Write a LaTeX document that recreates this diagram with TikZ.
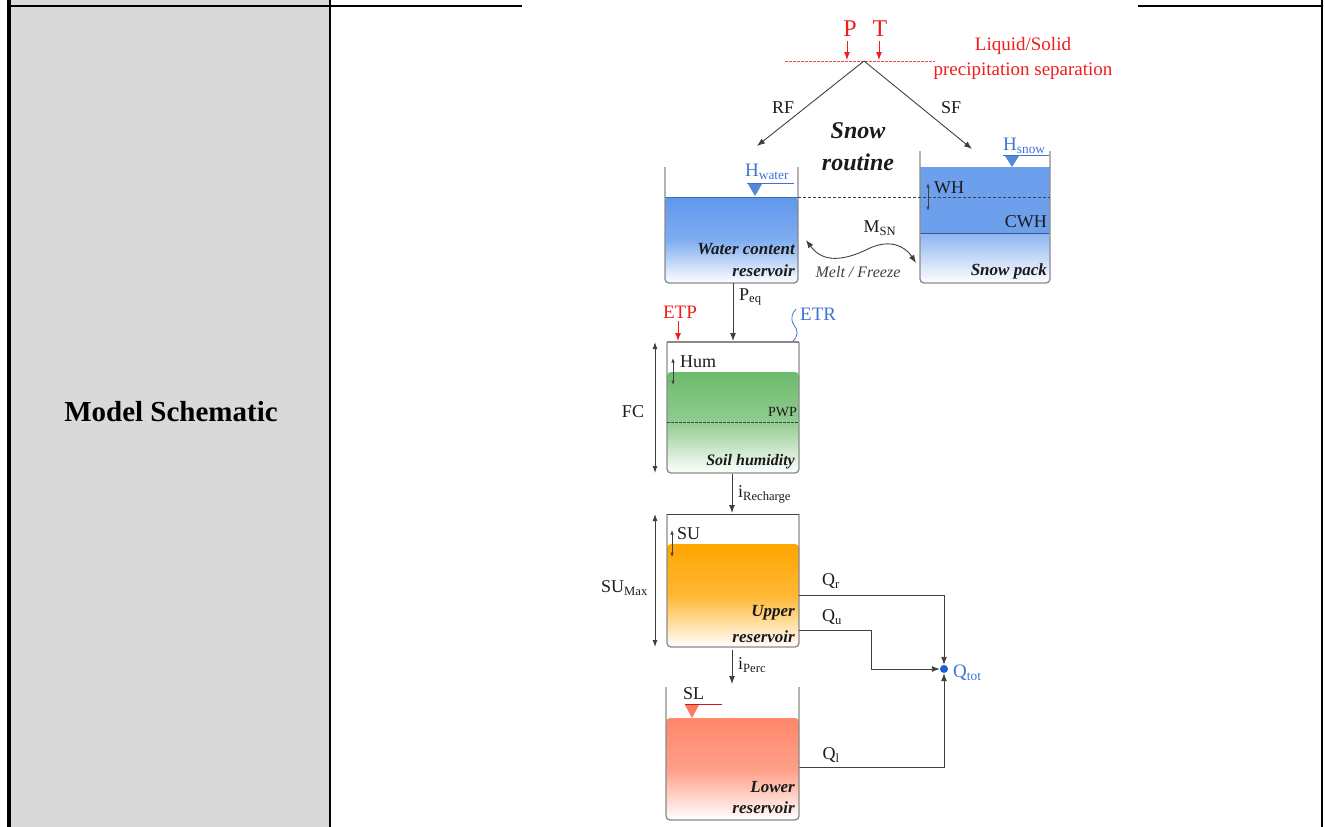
\documentclass[tikz,border=0pt]{standalone}
\usepackage{fontspec}
\setmainfont{Liberation Serif}
\usetikzlibrary{arrows.meta}
\definecolor{cellgray}{HTML}{D9D9D9}
\definecolor{wallgray}{HTML}{8A8A8A}
\definecolor{linegray}{HTML}{404040}
\definecolor{txt}{HTML}{1A1A1A}
\definecolor{pred}{HTML}{F21C1C}
\definecolor{pblue}{HTML}{3F72D6}
\definecolor{wblue}{HTML}{5F98EC}
\definecolor{sblue}{HTML}{6CA0EC}
\definecolor{sblue2}{HTML}{8DB5F0}
\definecolor{sgreen}{HTML}{6CBB6C}
\definecolor{sorange}{HTML}{FFA600}
\definecolor{ssalmon}{HTML}{FF876B}
\definecolor{dotblue}{HTML}{1E5FD6}
\begin{document}
\begin{tikzpicture}[x=1pt,y=-1pt,
  wall/.style={draw=wallgray, line width=1.3pt},
  conn/.style={draw=linegray, line width=0.9pt, -{Latex[length=8pt,width=6pt]}},
  rconn/.style={draw=pred, line width=0.9pt, -{Latex[length=8pt,width=6pt]}},
  dbl/.style={draw=linegray, line width=0.9pt, {Latex[length=7pt,width=5pt]}-{Latex[length=7pt,width=5pt]}},
  small dbl/.style={draw=linegray, line width=0.7pt, {Latex[length=4.5pt,width=3.5pt]}-{Latex[length=4.5pt,width=3.5pt]}},
  lbl/.style={font=\fontsize{18}{20}\selectfont, text=txt, inner sep=0pt},
  rlbl/.style={font=\fontsize{19}{22}\selectfont, text=pred, inner sep=0pt},
  blbl/.style={font=\fontsize{19}{22}\selectfont, text=pblue, inner sep=0pt},
  bilbl/.style={font=\fontsize{17}{19}\selectfont\bfseries\itshape, text=txt, inner sep=0pt, anchor=east},
  big/.style={font=\fontsize{24}{26}\selectfont\bfseries\itshape, text=txt, inner sep=0pt}
]
\useasboundingbox (0,0) rectangle (1325,827);
% ---------- table ----------
\fill[cellgray] (11,0) rectangle (330,827);
\draw[line width=4pt] (9,0) -- (9,827);
\draw[line width=1.5pt] (330,0) -- (330,827);
\draw[line width=1.5pt] (1322,0) -- (1322,827);
\draw[line width=1.5pt] (9,6) -- (522,6);
\draw[line width=1.5pt] (1138,6) -- (1323,6);
\node[font=\fontsize{29}{31}\selectfont\bfseries, inner sep=0pt] (title) at (171,412) {Model Schematic};

% ---------- precipitation separation ----------
\node[font=\fontsize{24}{26}\selectfont, text=pred, inner sep=0pt] (P) at (850,29) {P};
\node[font=\fontsize{24}{26}\selectfont, text=pred, inner sep=0pt] (T) at (880,29) {T};
\coordinate (pa) at (847,41); \coordinate (pb) at (847,60);
\coordinate (ta) at (879,41); \coordinate (tb) at (879,60);
\draw[rconn] (pa) -- (pb);
\draw[rconn] (ta) -- (tb);
\coordinate (sepL) at (785,61); \coordinate (sepR) at (935,61);
\draw[pred!80, line width=0.6pt, dash pattern=on 2.5pt off 1.5pt] (sepL) -- (sepR);
\node[rlbl] (liq) at (1023,46) {Liquid/Solid};
\node[rlbl] (prec) at (1023,71) {precipitation separation};
\coordinate (apex) at (864,61);
\coordinate (rfend) at (757,146);
\coordinate (sfend) at (972,149);
\draw[conn] (apex) -- (rfend);
\draw[conn] (apex) -- (sfend);
\node[lbl] (RF) at (783,108) {RF};
\node[lbl] (SF) at (951,108) {SF};
\node[big] (snow) at (858,131) {Snow};
\node[big] (routine) at (858,162) {routine};

% ---------- water content reservoir ----------
\path[rounded corners=4pt, top color=wblue, bottom color=white, middle color=wblue!80!white]
  (665,197) -- (665,283) -- (798,283) -- (798,197) -- cycle;
\draw[wall, rounded corners=4pt] (665,167) -- (665,283) -- (798,283) -- (798,167);
\draw[wblue!70!black, line width=0.4pt] (665,197) -- (798,197);
\node[blbl, anchor=west] (Hw) at (745,172) {H\textsubscript{water}};
\draw[pblue, line width=0.8pt] (747,183) -- (794,183);
\fill[wblue!90!black] (748,184) -- (762,184) -- (755,196) -- cycle;
\node[bilbl] (wc1) at (795,249) {Water content};
\node[bilbl] (wc2) at (795,271) {reservoir};

% ---------- snow pack ----------
\fill[sblue] (920,167) rectangle (1050,233);
\path[rounded corners=4pt, top color=sblue2, bottom color=white]
  (920,233) -- (920,283) -- (1050,283) -- (1050,233) -- cycle;
\draw[wblue!60!black, line width=0.5pt] (920,233) -- (1050,233);
\draw[wall, rounded corners=4pt] (920,151) -- (920,283) -- (1050,283) -- (1050,151);
\draw[linegray, line width=0.7pt, dash pattern=on 3pt off 2pt] (798,197) -- (1050,197);
\node[blbl, anchor=west] (Hs) at (1003,146) {H\textsubscript{snow}};
\draw[pblue, line width=0.8pt] (1003,155) -- (1049,155);
\fill[wblue!90!black] (1005,156) -- (1019,156) -- (1012,167) -- cycle;
\node[lbl, anchor=west] (WH) at (934,188) {WH};
\coordinate (wha) at (928,183); \coordinate (whb) at (928,211);
\draw[small dbl, line width=0.9pt] (wha) -- (whb);
\node[lbl, anchor=east] (CWH) at (1047,222) {CWH};
\node[bilbl] (sp) at (1047,271) {Snow pack};

% melt / freeze
\node[lbl] (MSN) at (880,228) {M\textsubscript{SN}};
\coordinate (ma) at (806,240); \coordinate (mb) at (916,263);
\draw[draw=linegray, line width=0.9pt, {Latex[length=8pt,width=6pt]}-{Latex[length=8pt,width=6pt]}]
  (ma) .. controls (825,266) and (850,258) .. (870,248) .. controls (890,239) and (905,246) .. (mb);
\node[font=\fontsize{16}{18}\selectfont\itshape, text=linegray, inner sep=0pt] (mf) at (858,272) {Melt / Freeze};

% ---------- P_eq, ETP, ETR ----------
\coordinate (wcbot) at (733,283); \coordinate (soiltop) at (733,341);
\draw[conn] (wcbot) -- (soiltop);
\node[lbl, anchor=west] (Peq) at (739,297) {P\textsubscript{eq}};
\node[rlbl] (ETP) at (680,312) {ETP};
\coordinate (etpa) at (678,321); \coordinate (etpb) at (678,341);
\draw[rconn] (etpa) -- (etpb);
\node[blbl, anchor=west] (ETR) at (800,314) {ETR};
\coordinate (etra) at (792,342); \coordinate (etrb) at (796,309);
\draw[pblue, line width=0.8pt] (etra) .. controls (799,336) and (798,330) .. (794,325) .. controls (790,319) and (792,313) .. (etrb);

% ---------- soil humidity ----------
\path[rounded corners=4pt, top color=sgreen, bottom color=white, middle color=sgreen!75!white]
  (667,372) -- (667,473) -- (799,473) -- (799,372) -- cycle;
\draw[wall, rounded corners=4pt] (667,342) -- (667,473) -- (799,473) -- (799,342);
\draw[wall] (667,342) -- (799,342);
\draw[linegray, line width=0.6pt, dash pattern=on 2.5pt off 1.5pt] (667,422) -- (799,422);
\node[lbl, anchor=west] (Hum) at (680,362) {Hum};
\coordinate (huma) at (673,358); \coordinate (humb) at (673,385);
\draw[small dbl] (huma) -- (humb);
\node[font=\fontsize{14}{16}\selectfont, text=txt, inner sep=0pt, anchor=east] (PWP) at (797,412) {PWP};
\coordinate (fca) at (655,342); \coordinate (fcb) at (655,473);
\draw[dbl] (fca) -- (fcb);
\node[lbl] (FC) at (633,412) {FC};
\node[bilbl, font=\fontsize{16}{18}\selectfont\bfseries\itshape] (sh) at (795,462) {Soil humidity};

% ---------- recharge ----------
\coordinate (soilbot) at (732,474); \coordinate (uptop) at (732,513);
\draw[conn] (soilbot) -- (uptop);
\node[lbl, anchor=west] (irec) at (738,494) {i\textsubscript{Recharge}};

% ---------- upper reservoir ----------
\path[rounded corners=4pt, top color=sorange, bottom color=white, middle color=sorange!80!white]
  (667,544) -- (667,647) -- (799,647) -- (799,544) -- cycle;
\draw[wall, rounded corners=4pt] (667,514) -- (667,647) -- (799,647) -- (799,514);
\draw[linegray, line width=1pt] (667,514) -- (799,514);
\node[lbl, anchor=west] (SU) at (677,534) {SU};
\coordinate (sua) at (672,530); \coordinate (sub) at (672,557);
\draw[small dbl] (sua) -- (sub);
\coordinate (suma) at (655,514); \coordinate (sumb) at (655,647);
\draw[dbl] (suma) -- (sumb);
\node[lbl, anchor=east] (SUM) at (648,588) {SU\textsubscript{Max}};
\node[bilbl] (up1) at (795,613) {Upper};
\node[bilbl] (up2) at (795,637) {reservoir};

% ---------- outflows ----------
\node[circle, fill=dotblue, inner sep=0pt, minimum size=8pt] (Qtot) at (944,669) {};
\node[blbl, anchor=west] (Qtotl) at (953,673) {Q\textsubscript{tot}};
\coordinate (qr0) at (799,595);
\draw[conn] (qr0) -| (Qtot.north);
\node[lbl] (Qr) at (831,581) {Q\textsubscript{r}};
\coordinate (qu0) at (799,630); \coordinate (qu1) at (871,630);
\draw[conn] (qu0) -- (qu1) |- (Qtot.west);
\node[lbl] (Qu) at (832,617) {Q\textsubscript{u}};
\coordinate (ql0) at (799,767);
\draw[conn] (ql0) -| (Qtot.south);
\node[lbl] (Ql) at (831,755) {Q\textsubscript{l}};

% ---------- percolation ----------
\coordinate (upbot) at (732,650); \coordinate (lowtop) at (732,684);
\draw[conn] (upbot) -- (lowtop);
\node[lbl, anchor=west] (iperc) at (738,665) {i\textsubscript{Perc}};

% ---------- lower reservoir ----------
\path[rounded corners=4pt, top color=ssalmon, bottom color=white, middle color=ssalmon!80!white]
  (666,718) -- (666,820) -- (799,820) -- (799,718) -- cycle;
\draw[wall, rounded corners=4pt] (666,687) -- (666,820) -- (799,820) -- (799,687);
\node[lbl, anchor=west] (SL) at (683,694) {SL};
\draw[pred!85!black, line width=1pt] (685,704) -- (722,704);
\fill[ssalmon!90!red] (685,705) -- (699,705) -- (692,718) -- cycle;
\node[bilbl] (lo1) at (795,787) {Lower};
\node[bilbl] (lo2) at (795,808) {reservoir};
\end{tikzpicture}
\end{document}
